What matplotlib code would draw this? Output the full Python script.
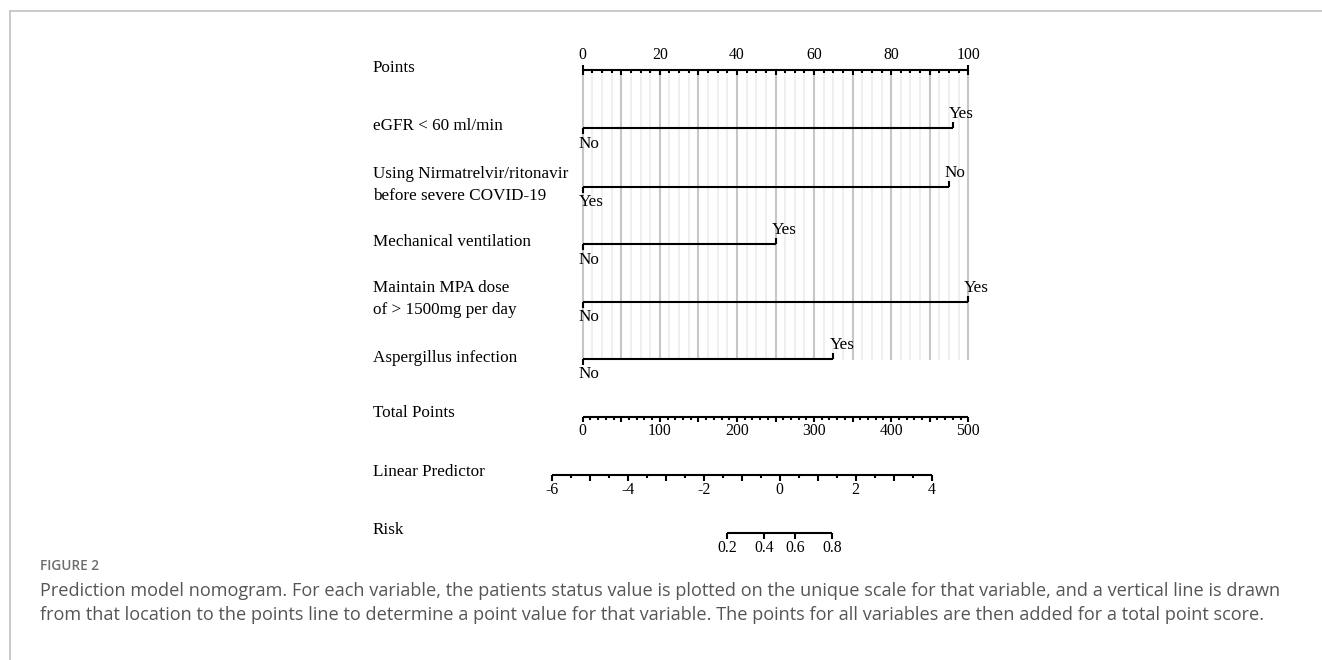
import numpy as np
import matplotlib
matplotlib.use("Agg")
import matplotlib.pyplot as plt
from matplotlib.lines import Line2D

# ---- data ----
variables = [
    "eGFR < 60 ml/min",
    "Using Nirmatrelvir/ritonavir\nbefore severe COVID-19",
    "Mechanical ventilation",
    "Maintain MPA dose\nof > 1500mg per day",
    "Aspergillus infection",
]
level_at_zero = ["No", "Yes", "No", "No", "No"]
level_at_max = ["Yes", "No", "Yes", "Yes", "Yes"]
points_max = [96, 95, 50, 100, 65]

points_labels = [0, 20, 40, 60, 80, 100]
total_labels = [0, 100, 200, 300, 400, 500]
lp_labels = [-6, -4, -2, 0, 2, 4]
risk_labels = [0.2, 0.4, 0.6, 0.8]

# linear predictor = lp_intercept + lp_slope * total points
lp_intercept = -5.184
lp_slope = 1 / 49.25
total_per_point = 5.0

caption_title = "FIGURE 2"
caption = [
    "Prediction model nomogram. For each variable, the patients status value is plotted on the unique scale for that variable, and a vertical line is drawn",
    "from that location to the points line to determine a point value for that variable. The points for all variables are then added for a total point score.",
]

W, H = 1322, 660
X0_PX, X100_PX = 582.7, 968.3
px_per_pt = (X100_PX - X0_PX) / 100.0

serif = "Liberation Serif"
fs = 12.3
fs_tick = 11.3
lw_axis = 1.5


def total_to_x(t):
    return np.asarray(t, dtype=float) / total_per_point


def lp_to_x(lp):
    return total_to_x((np.asarray(lp, dtype=float) - lp_intercept) / lp_slope)


def risk_to_x(r):
    r = np.asarray(r, dtype=float)
    return lp_to_x(np.log(r / (1 - r)))


def px(n):
    # pixel distance along x in points units
    return n / px_per_pt


def draw_scale(ax, y, x_major, x_minor, labels, label_x,
               major_len=5.5, minor_len=3.0):
    xs = np.concatenate([x_major, x_minor])
    ax.hlines(y, xs.min(), xs.max(), color="black", lw=lw_axis, zorder=3)
    ax.vlines(x_major, y, y + major_len, color="black", lw=lw_axis, zorder=3)
    if len(x_minor):
        ax.vlines(x_minor, y, y + minor_len, color="black", lw=lw_axis, zorder=3)
    for x, lab in zip(label_x, labels):
        ax.text(x, y + 18.5, lab, ha="center", va="baseline", fontsize=fs_tick,
                family=serif)


fig = plt.figure(figsize=(W / 100, H / 100), dpi=100)
ax = fig.add_axes([0, 0, 1, 1])
ax.set_xlim(-X0_PX / px_per_pt, (W - X0_PX) / px_per_pt)
ax.set_ylim(H, 0)
ax.axis("off")

# frame lines of the figure panel
fig.add_artist(Line2D([10 / W, 1], [1 - 11 / H, 1 - 11 / H], transform=fig.transFigure,
                      color="#c6c6c6", lw=1.3))
fig.add_artist(Line2D([10 / W, 10 / W], [0, 1 - 11 / H], transform=fig.transFigure,
                      color="#c6c6c6", lw=1.3))

label_x = px(373 - X0_PX)
row_label_y = [126, 185, 242, 299, 358]
row_line_y = [128.3, 186.7, 244, 301.7, 359]

# vertical reference grid
grid_minor = np.arange(0, 100.01, 2.5)
grid_major = np.arange(0, 100.01, 10)
ax.vlines(grid_minor, 70, 360, color="#ebebeb", lw=1.1, zorder=1)
ax.vlines(grid_major, 70, 360, color="#c6c6c6", lw=1.5, zorder=1)

# Points scale
ax.text(label_x, 68, "Points", va="center", ha="left", fontsize=fs, family=serif)
y_pts = 69.5
ax.hlines(y_pts, 0, 100, color="black", lw=lw_axis, zorder=3)
ax.vlines(grid_major, y_pts, y_pts + 5.5, color="black", lw=lw_axis, zorder=3)
ax.vlines(np.setdiff1d(grid_minor, grid_major), y_pts, y_pts + 3, color="black",
          lw=lw_axis, zorder=3)
ax.vlines([0, 100], y_pts - 5, y_pts, color="black", lw=lw_axis, zorder=3)
for v in points_labels:
    ax.text(v, y_pts - 10.5, str(v), ha="center", va="baseline", fontsize=fs_tick,
            family=serif)

# variable rows
for name, lo, hi, pmax, yl, y in zip(variables, level_at_zero, level_at_max,
                                     points_max, row_label_y, row_line_y):
    ax.text(label_x, yl, name, va="center", ha="left", fontsize=fs, family=serif,
            linespacing=1.55)
    ax.hlines(y, 0, pmax, color="black", lw=lw_axis, zorder=3)
    ax.vlines(0, y, y + 6, color="black", lw=lw_axis, zorder=3)
    ax.vlines(pmax, y - 6, y, color="black", lw=lw_axis, zorder=3)
    ax.text(0 - px(4), y + 19.5, lo, ha="left", va="baseline", fontsize=fs,
            family=serif)
    ax.text(pmax - px(4), y - 10, hi, ha="left", va="baseline", fontsize=fs,
            family=serif)

# Total Points scale
ax.text(label_x, 413, "Total Points", va="center", ha="left", fontsize=fs,
        family=serif)
t_minor = np.setdiff1d(np.arange(0, 501, 10), np.arange(0, 501, 50))
draw_scale(ax, 416.7, total_to_x(np.arange(0, 501, 50)), total_to_x(t_minor),
           [str(v) for v in total_labels], total_to_x(total_labels))

# Linear Predictor scale
ax.text(label_x, 472, "Linear Predictor", va="center", ha="left", fontsize=fs,
        family=serif)
lp_major = np.arange(-6, 4.01, 1)
lp_minor = np.arange(-5.5, 4, 1)
draw_scale(ax, 475, lp_to_x(lp_major), lp_to_x(lp_minor),
           [str(v) for v in lp_labels], lp_to_x(lp_labels))

# Risk scale
ax.text(label_x, 530, "Risk", va="center", ha="left", fontsize=fs, family=serif)
draw_scale(ax, 533.3, risk_to_x(risk_labels), np.array([]),
           [f"{v:.1f}" for v in risk_labels], risk_to_x(risk_labels))

# caption
fig.text(40 / W, 1 - 566 / H, caption_title, ha="left", va="center", fontsize=9.8,
         family="Open Sans", fontweight="semibold", color="#6e6e6e")
for i, line in enumerate(caption):
    fig.text(40 / W, 1 - (591 + 23.5 * i) / H, line, ha="left", va="center",
             fontsize=13.1, family="Open Sans", color="#555555")

fig.savefig("out.png", dpi=100)
